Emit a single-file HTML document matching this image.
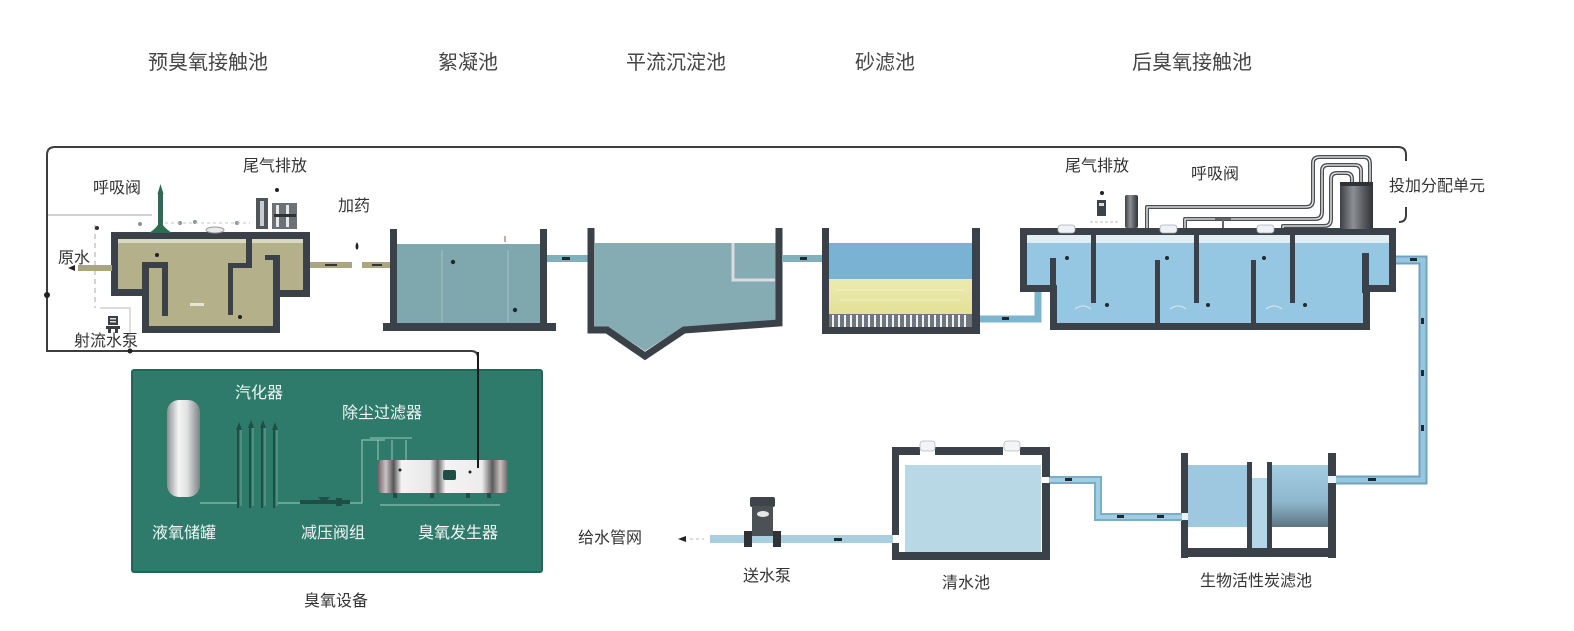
<!DOCTYPE html>
<html><head><meta charset="utf-8"><style>
html,body{margin:0;padding:0;background:#fff;}
svg{display:block;}
text{font-family:"Liberation Sans","Noto Sans CJK SC","WenQuanYi Zen Hei",sans-serif;}
</style></head><body>
<svg width="1574" height="631" viewBox="0 0 1574 631" xmlns="http://www.w3.org/2000/svg">
<defs>
<linearGradient id="cylV" x1="0" y1="0" x2="1" y2="0">
<stop offset="0" stop-color="#8a8f93"/><stop offset="0.35" stop-color="#f4f4f4"/><stop offset="0.6" stop-color="#e2e2e2"/><stop offset="1" stop-color="#7d8286"/></linearGradient>
<linearGradient id="gen" x1="0" y1="0" x2="1" y2="0">
<stop offset="0" stop-color="#6e6466"/><stop offset="0.06" stop-color="#c9c3c4"/><stop offset="0.12" stop-color="#555"/><stop offset="0.18" stop-color="#f3f3f3"/><stop offset="0.4" stop-color="#e8e8e8"/><stop offset="0.46" stop-color="#666"/><stop offset="0.52" stop-color="#f4f4f4"/><stop offset="0.8" stop-color="#ececec"/><stop offset="0.88" stop-color="#5c5c5c"/><stop offset="0.94" stop-color="#c8c0c0"/><stop offset="1" stop-color="#6b6163"/></linearGradient>
<linearGradient id="darkcyl" x1="0" y1="0" x2="1" y2="0">
<stop offset="0" stop-color="#3c4045"/><stop offset="0.4" stop-color="#8c9094"/><stop offset="0.7" stop-color="#5a5e62"/><stop offset="1" stop-color="#2f3337"/></linearGradient>
<linearGradient id="bioR" x1="0" y1="0" x2="0" y2="1">
<stop offset="0" stop-color="#a4cde2"/><stop offset="0.6" stop-color="#8fb7cc"/><stop offset="1" stop-color="#5b7482"/></linearGradient>
<linearGradient id="sand" x1="0" y1="0" x2="0" y2="1">
<stop offset="0" stop-color="#ecebb0"/><stop offset="1" stop-color="#e3e196"/></linearGradient>
</defs>

<!-- top titles -->
<g fill="#454545" font-size="20" text-anchor="middle">
<text x="208" y="69">预臭氧接触池</text>
<text x="468" y="69">絮凝池</text>
<text x="676" y="69">平流沉淀池</text>
<text x="885" y="69">砂滤池</text>
<text x="1192" y="69">后臭氧接触池</text>
</g>

<!-- big loop line -->
<path d="M478,465 V358 Q478,351 471,351 H47 V155 Q47,147 55,147 H1398 Q1406,147 1406,155 V161" fill="none" stroke="#3d3d3d" stroke-width="2"/>
<path d="M1406,207 V215 Q1406,222 1399,222" fill="none" stroke="#3d3d3d" stroke-width="2"/>
<circle cx="47" cy="295" r="3" fill="#222"/>
<circle cx="130" cy="351" r="2.5" fill="#222"/>

<!-- left light lines -->
<line x1="48" y1="215" x2="152" y2="215" stroke="#c4c4c4" stroke-width="1.5"/>
<line x1="95" y1="225" x2="95" y2="308" stroke="#b8b8b8" stroke-width="1.2" stroke-dasharray="5,4"/>
<path d="M100,308 H130 V335" fill="none" stroke="#c8c8c8" stroke-width="1.2"/>
<circle cx="97" cy="228" r="2" fill="#333"/>
<!-- pump icon -->
<g fill="#3a3e42"><rect x="108" y="316" width="10" height="9"/><rect x="106" y="326" width="14" height="3"/><rect x="108" y="329" width="3" height="4"/><rect x="115" y="329" width="3" height="4"/></g>
<rect x="110" y="318" width="6" height="1.5" fill="#ddd"/><rect x="110" y="321" width="6" height="1.5" fill="#ddd"/>

<!-- pre-ozone tank -->
<path d="M111,232 H310 V297 H280 V333 H142 V296 H111 Z" fill="#3b4148"/>
<path d="M118,239 H303 V290 H273 V326 H149 V289 H118 Z" fill="#b4b18a"/>
<rect x="118" y="239" width="185" height="4" fill="#d9d8c2"/>
<!-- inner baffles -->
<rect x="142" y="262" width="7" height="34" fill="#3b4148"/>
<rect x="142" y="262" width="26" height="6" fill="#3b4148"/>
<rect x="162" y="262" width="6" height="54" fill="#3b4148"/>
<rect x="246" y="236" width="6" height="32" fill="#3b4148"/>
<rect x="228" y="263" width="24" height="5" fill="#3b4148"/>
<rect x="228" y="263" width="5" height="52" fill="#3b4148"/>
<rect x="273" y="255" width="7" height="38" fill="#3b4148"/>
<rect x="265" y="255" width="15" height="5" fill="#3b4148"/>
<circle cx="157" cy="255" r="2" fill="#222"/>
<circle cx="240" cy="317" r="2" fill="#222"/>
<rect x="190" y="303" width="14" height="3" fill="#e7e5d2"/>
<!-- inlet & outlet pipes -->
<rect x="78" y="265" width="34" height="6" fill="#aaa67f"/>
<path d="M68,268 l7,-3 v6 z" fill="#222"/>
<rect x="310" y="262" width="42" height="6" fill="#aaa67f"/>
<rect x="362" y="262" width="30" height="6" fill="#aaa67f"/>
<rect x="325" y="264" width="12" height="2" fill="#333"/>
<rect x="372" y="264" width="10" height="2" fill="#333"/>
<path d="M357,242 q-3,5 0,8 q3,-3 0,-8z" fill="#222"/>
<!-- breathing valve (green) -->
<rect x="158" y="192" width="5" height="34" fill="#2f6a55"/>
<path d="M160.5,184 l3,10 h-6 z" fill="#2f6a55"/>
<path d="M149,233 Q160,226 160,218 Q161,226 172,233 Z" fill="#2f6a55"/>
<!-- small fittings -->
<g fill="#8b9296"><circle cx="140" cy="224" r="2"/><circle cx="180" cy="223" r="2"/><circle cx="195" cy="222" r="2"/><circle cx="237" cy="223" r="2"/></g>
<line x1="165" y1="223" x2="250" y2="223" stroke="#c5c5c5" stroke-width="1" stroke-dasharray="3,3"/>
<ellipse cx="215" cy="230" rx="9" ry="3" fill="#e9eaeb" stroke="#999" stroke-width="1"/>
<!-- tail gas device -->
<rect x="256" y="198" width="12" height="31" fill="#50555a"/>
<rect x="260" y="201" width="4" height="25" fill="#c9cccf"/>
<rect x="272" y="203" width="25" height="26" fill="#6c7176"/>
<rect x="276" y="205" width="3" height="22" fill="#e8e8e8"/>
<rect x="286" y="205" width="3" height="22" fill="#e8e8e8"/>
<rect x="274" y="214" width="22" height="3" fill="#2e3236"/>
<circle cx="277" cy="190" r="2" fill="#222"/>

<!-- labels pre-ozone -->
<g fill="#333" font-size="16" text-anchor="middle">
<text x="275" y="171">尾气排放</text>
<text x="117" y="193">呼吸阀</text>
<text x="354" y="211">加药</text>
<text x="74" y="263">原水</text>
<text x="106" y="346">射流水泵</text>
</g>

<!-- flocculation tank -->
<rect x="397" y="244" width="144" height="80" fill="#7fa8ae"/>
<line x1="442" y1="250" x2="442" y2="322" stroke="#96babf" stroke-width="1.5"/>
<line x1="508" y1="250" x2="508" y2="322" stroke="#96babf" stroke-width="1.5"/>
<rect x="390" y="229" width="7" height="96" fill="#3b4148"/>
<rect x="540" y="229" width="7" height="96" fill="#3b4148"/>
<rect x="383" y="323" width="173" height="8" fill="#3b4148"/>
<circle cx="453" cy="262" r="2.2" fill="#1f2a30"/>
<circle cx="515" cy="310" r="2.2" fill="#1f2a30"/>
<rect x="504" y="236" width="2" height="6" fill="#c9a9a9"/>
<!-- pipe flocc->sed -->
<rect x="547" y="255" width="42" height="7" fill="#7fb0bb"/>
<rect x="562" y="257" width="8" height="3" fill="#1f2a30"/>

<!-- sedimentation tank -->
<path d="M595,243 H776 V320 L683,327 L645,351 L608,327 H595 Z" fill="#84acb2"/>
<path d="M733,243 V280 H775" fill="none" stroke="#d9dde0" stroke-width="3"/>
<path d="M591,228 V330 H607 L645,356 L684,330 L779,323 V228" fill="none" stroke="#3b4148" stroke-width="7" stroke-linejoin="miter"/>
<!-- pipe sed->sand -->
<rect x="782" y="255" width="41" height="7" fill="#7fb0bb"/>
<rect x="800" y="257" width="7" height="3" fill="#1f2a30"/>

<!-- sand filter -->
<rect x="829" y="243" width="143" height="36" fill="#7ab2d3"/>
<rect x="829" y="279" width="143" height="35" fill="url(#sand)"/>
<g stroke="#f6f5d8" stroke-width="1" opacity="0.7"><line x1="835" y1="290" x2="965" y2="290"/><line x1="840" y1="300" x2="960" y2="300"/></g>
<rect x="829" y="314" width="143" height="14" fill="#6f777d"/>
<g stroke="#f2f2f2" stroke-width="2">
<line x1="833" y1="315" x2="833" y2="327"/><line x1="839" y1="315" x2="839" y2="327"/><line x1="845" y1="315" x2="845" y2="327"/><line x1="851" y1="315" x2="851" y2="327"/><line x1="857" y1="315" x2="857" y2="327"/><line x1="863" y1="315" x2="863" y2="327"/><line x1="869" y1="315" x2="869" y2="327"/><line x1="875" y1="315" x2="875" y2="327"/><line x1="881" y1="315" x2="881" y2="327"/><line x1="887" y1="315" x2="887" y2="327"/><line x1="893" y1="315" x2="893" y2="327"/><line x1="899" y1="315" x2="899" y2="327"/><line x1="905" y1="315" x2="905" y2="327"/><line x1="911" y1="315" x2="911" y2="327"/><line x1="917" y1="315" x2="917" y2="327"/><line x1="923" y1="315" x2="923" y2="327"/><line x1="929" y1="315" x2="929" y2="327"/><line x1="935" y1="315" x2="935" y2="327"/><line x1="941" y1="315" x2="941" y2="327"/><line x1="947" y1="315" x2="947" y2="327"/><line x1="953" y1="315" x2="953" y2="327"/><line x1="959" y1="315" x2="959" y2="327"/><line x1="965" y1="315" x2="965" y2="327"/>
</g>
<rect x="822" y="228" width="7" height="106" fill="#3b4148"/>
<rect x="972" y="228" width="8" height="106" fill="#3b4148"/>
<rect x="822" y="327" width="158" height="7" fill="#3b4148"/>
<!-- pipe sand->post -->
<path d="M980,319 H1038 V291" fill="none" stroke="#7db5cf" stroke-width="7"/>
<rect x="1002" y="317" width="7" height="3" fill="#1f2a30"/>

<!-- post-ozone tank -->
<path d="M1020,228 H1396 V292 H1370 V330 H1050 V292 H1020 Z" fill="#3b4148"/>
<path d="M1027,235 H1389 V285 H1363 V323 H1057 V285 H1027 Z" fill="#95c6e2"/>
<rect x="1027" y="235" width="362" height="8" fill="#e3eef4"/>
<g fill="#3b4148">
<rect x="1050" y="258" width="6" height="30"/>
<rect x="1091" y="235" width="5" height="68"/>
<rect x="1155" y="260" width="5" height="64"/>
<rect x="1194" y="235" width="5" height="68"/>
<rect x="1251" y="260" width="5" height="64"/>
<rect x="1290" y="235" width="5" height="68"/>
<rect x="1362" y="253" width="7" height="40"/>
</g>
<g fill="#1f2a30">
<circle cx="1067" cy="258" r="2"/><circle cx="1167" cy="258" r="2"/><circle cx="1264" cy="258" r="2"/>
<circle cx="1107" cy="305" r="2"/><circle cx="1208" cy="305" r="2"/><circle cx="1305" cy="305" r="2"/>
</g>
<g fill="none" stroke="#cfe3ee" stroke-width="1.2">
<path d="M1075,309 q8,-6 16,0"/><path d="M1170,309 q8,-6 16,0"/><path d="M1266,309 q8,-6 16,0"/>
</g>
<!-- openings on top -->
<g fill="#eef2f4" stroke="#aab" stroke-width="0.8">
<rect x="1058" y="225" width="17" height="8" rx="3"/>
<rect x="1160" y="225" width="17" height="8" rx="3"/>
<rect x="1257" y="225" width="17" height="8" rx="3"/>
</g>
<!-- post tail gas device -->
<rect x="1097" y="200" width="9" height="16" fill="#3d4247"/>
<rect x="1099" y="203" width="5" height="3" fill="#ddd"/>
<circle cx="1102" cy="193" r="2" fill="#222"/>
<line x1="1090" y1="222" x2="1120" y2="222" stroke="#bbb" stroke-width="1" stroke-dasharray="3,2"/>
<rect x="1125" y="195" width="13" height="33" rx="2" fill="url(#darkcyl)"/>
<!-- tubes from distribution unit -->
<g fill="none" stroke-linejoin="round">
<path d="M1147,228 V207 H1306 Q1313,207 1313,200 V163 Q1313,157 1320,157 H1364 Q1370,157 1370,164 V183" stroke="#4a4f54" stroke-width="4"/>
<path d="M1147,228 V207 H1306 Q1313,207 1313,200 V163 Q1313,157 1320,157 H1364 Q1370,157 1370,164 V183" stroke="#f0f0f0" stroke-width="1.3"/>
<path d="M1185,228 V219 H1315 Q1322,219 1322,212 V171 Q1322,165 1328,165 H1355 Q1361,165 1361,171 V183" stroke="#4a4f54" stroke-width="4"/>
<path d="M1185,228 V219 H1315 Q1322,219 1322,212 V171 Q1322,165 1328,165 H1355 Q1361,165 1361,171 V183" stroke="#f0f0f0" stroke-width="1.3"/>
<path d="M1283,228 V226 H1324 Q1331,226 1331,219 V179 Q1331,173 1337,173 H1346 Q1352,173 1352,179 V183" stroke="#4a4f54" stroke-width="4"/>
<path d="M1283,228 V226 H1324 Q1331,226 1331,219 V179 Q1331,173 1337,173 H1346 Q1352,173 1352,179 V183" stroke="#f0f0f0" stroke-width="1.3"/>
</g>
<path d="M1215,219 H1231 M1223,219 V228" stroke="#666" stroke-width="2"/>
<!-- distribution unit cylinder -->
<rect x="1340" y="182" width="33" height="47" rx="2" fill="url(#darkcyl)"/>
<rect x="1340" y="182" width="33" height="4" fill="#2f3337"/>
<!-- pipe post -> bio (loop right) -->
<path d="M1396,260 H1423 V480 H1336" fill="none" stroke="#6fa3c1" stroke-width="9"/>
<path d="M1396,260 H1423 V480 H1336" fill="none" stroke="#98c6de" stroke-width="5"/>
<g fill="#1f2a30">
<rect x="1410" y="258" width="7" height="3"/>
<rect x="1421" y="318" width="3" height="6"/>
<rect x="1421" y="370" width="3" height="6"/>
<rect x="1421" y="425" width="3" height="6"/>
<rect x="1368" y="478" width="8" height="3"/>
</g>

<!-- post labels -->
<g fill="#333" font-size="16" text-anchor="middle">
<text x="1097" y="171">尾气排放</text>
<text x="1215" y="179">呼吸阀</text>
<text x="1437" y="191">投加分配单元</text>
</g>

<!-- bio activated carbon filter -->
<rect x="1188" y="465" width="59" height="62" fill="#9dc8df"/>
<rect x="1272" y="465" width="56" height="62" fill="url(#bioR)"/>
<rect x="1252" y="478" width="15" height="70" fill="#b4d6e6"/>
<g fill="#3b4148">
<rect x="1181" y="453" width="7" height="105"/>
<rect x="1328" y="453" width="8" height="105"/>
<rect x="1181" y="548" width="155" height="9"/>
<rect x="1247" y="462" width="5" height="88"/>
<rect x="1267" y="462" width="5" height="88"/>
</g>
<rect x="1181" y="513" width="7" height="7" fill="#e8f2f7"/>
<rect x="1328" y="476" width="8" height="7" fill="#e8f2f7"/>
<!-- pipe clear -> bio -->
<path d="M1049,480 H1098 V517 H1182" fill="none" stroke="#79adc8" stroke-width="8"/>
<path d="M1049,480 H1098 V517 H1182" fill="none" stroke="#a3cde2" stroke-width="4"/>
<g fill="#1f2a30"><rect x="1065" y="478" width="7" height="3"/><rect x="1117" y="515" width="7" height="3"/><rect x="1157" y="515" width="7" height="3"/></g>

<!-- clear water tank -->
<rect x="905" y="465" width="136" height="87" fill="#b8d8e5"/>
<path d="M892,447 H920 V455 H899 V535 H892 Z" fill="#3b4148"/>
<rect x="892" y="543" width="7" height="17" fill="#3b4148"/>
<rect x="892" y="552" width="158" height="8" fill="#3b4148"/>
<rect x="935" y="447" width="68" height="8" fill="#3b4148"/>
<rect x="1020" y="447" width="30" height="8" fill="#3b4148"/>
<rect x="1042" y="447" width="8" height="30" fill="#3b4148"/>
<rect x="1042" y="483" width="8" height="77" fill="#3b4148"/>
<rect x="920" y="441" width="15" height="10" rx="3" fill="#f2f4f5" stroke="#b5b9bd" stroke-width="0.8"/>
<rect x="1004" y="441" width="16" height="10" rx="3" fill="#f2f4f5" stroke="#b5b9bd" stroke-width="0.8"/>
<!-- outlet pipe -->
<rect x="710" y="535" width="183" height="8" fill="#a8cfdf"/>
<rect x="834" y="538" width="8" height="3" fill="#1f2a30"/>
<path d="M678,539 l8,-3 v6 z" fill="#222"/>
<line x1="690" y1="539" x2="704" y2="539" stroke="#bbb" stroke-width="1" stroke-dasharray="3,3"/>
<!-- pump -->
<rect x="750" y="497" width="25" height="10" rx="2" fill="#3f4449"/>
<rect x="752" y="506" width="21" height="30" fill="#4c5156"/>
<ellipse cx="763" cy="514" rx="6" ry="3" fill="#e6e6e6"/>
<rect x="744" y="531" width="8" height="16" fill="#2f3337"/>
<rect x="773" y="531" width="8" height="16" fill="#2f3337"/>

<!-- bottom labels -->
<g fill="#333" font-size="16" text-anchor="middle">
<text x="610" y="543">给水管网</text>
<text x="767" y="581">送水泵</text>
<text x="966" y="588">清水池</text>
<text x="1256" y="586">生物活性炭滤池</text>
<text x="336" y="606">臭氧设备</text>
</g>

<!-- ozone equipment box -->
<rect x="132" y="370" width="410" height="202" rx="2" fill="#2e7b6c" stroke="#21665a" stroke-width="2"/>
<!-- LOX tank -->
<rect x="167" y="400" width="33" height="97" rx="12" fill="url(#cylV)"/>
<!-- vaporizer -->
<g stroke="#1e4f46" stroke-width="2">
<line x1="238" y1="428" x2="238" y2="508"/><line x1="250" y1="426" x2="250" y2="508"/><line x1="262" y1="426" x2="262" y2="508"/><line x1="274" y1="428" x2="274" y2="508"/>
</g>
<g stroke="#6fa79a" stroke-width="1">
<line x1="241" y1="428" x2="241" y2="506"/><line x1="253" y1="426" x2="253" y2="506"/><line x1="265" y1="426" x2="265" y2="506"/><line x1="277" y1="428" x2="277" y2="506"/>
</g>
<g fill="#1e4f46"><path d="M236,430 l3,-8 l3,8z"/><path d="M248,428 l3,-8 l3,8z"/><path d="M260,428 l3,-8 l3,8z"/><path d="M272,430 l3,-8 l3,8z"/></g>
<!-- connecting pipes -->
<g stroke="#8fbcb2" stroke-width="1.2" fill="none">
<path d="M200,503 H237"/><path d="M278,503 H300"/><path d="M350,503 H362 V440 H385"/>
<path d="M380,505 H500"/>
</g>
<!-- pressure reducing valve group -->
<g fill="#1e4f46"><rect x="300" y="500" width="50" height="4"/><path d="M318,497 l6,6 l6,-6z"/><rect x="336" y="498" width="6" height="8"/></g>
<!-- dust filter -->
<g stroke="#9cc6bc" stroke-width="1" fill="none"><path d="M370,438 H412"/><path d="M378,440 v20 M392,440 v20 M406,440 v20"/></g>
<!-- ozone generator -->
<rect x="378" y="460" width="130" height="33" rx="4" fill="url(#gen)"/>
<rect x="443" y="470" width="13" height="10" rx="2" fill="#1e4f46"/>
<circle cx="400" cy="470" r="1.5" fill="#222"/><circle cx="470" cy="472" r="1.5" fill="#222"/>
<g fill="#1e4f46"><rect x="393" y="493" width="4" height="5"/><rect x="430" y="493" width="4" height="5"/><rect x="466" y="493" width="4" height="5"/><rect x="487" y="493" width="4" height="5"/></g>
<line x1="478" y1="352" x2="478" y2="468" stroke="#1b1b1b" stroke-width="2"/>

<!-- ozone labels -->
<g fill="#f2f5f4" font-size="16" text-anchor="middle">
<text x="259" y="398">汽化器</text>
<text x="382" y="418">除尘过滤器</text>
<text x="184" y="538">液氧储罐</text>
<text x="333" y="538">减压阀组</text>
<text x="458" y="538">臭氧发生器</text>
</g>
</svg>
</body></html>
